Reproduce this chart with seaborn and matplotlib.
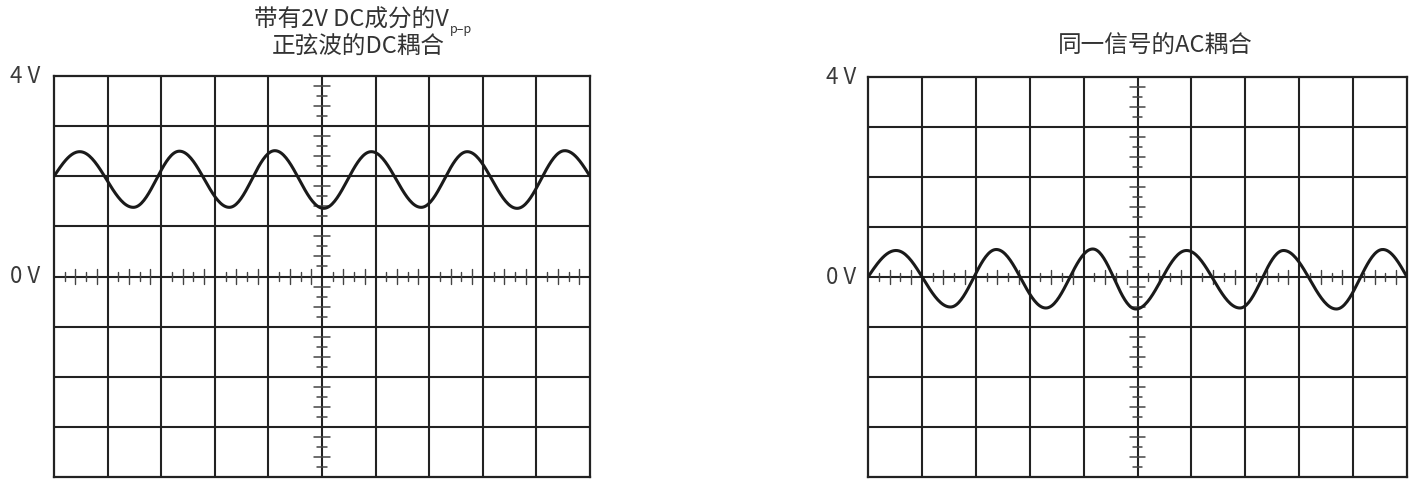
import numpy as np
import pandas as pd
import matplotlib
matplotlib.use('Agg')
import matplotlib.pyplot as plt
import seaborn as sns

# values (x in divisions, y in volts)
dc_start = [0.0, 2.0]
dc_end = [10.0, 2.0]
dc_peaks_x = [0.48, 2.34, 4.12, 5.92, 7.71, 9.53]
dc_peaks_v = [2.49, 2.50, 2.51, 2.49, 2.49, 2.51]
dc_troughs_x = [1.48, 3.27, 5.03, 6.85, 8.64]
dc_troughs_v = [1.38, 1.38, 1.36, 1.38, 1.36]

ac_start = [0.0, 0.0]
ac_end = [10.0, 0.0]
ac_peaks_x = [0.52, 2.38, 4.17, 5.91, 7.71, 9.55]
ac_peaks_v = [0.53, 0.55, 0.56, 0.53, 0.53, 0.55]
ac_troughs_x = [1.53, 3.30, 4.97, 6.90, 8.69]
ac_troughs_v = [-0.60, -0.62, -0.64, -0.62, -0.64]

y_labels = ['4 V', '0 V']
left_title = '带有2V DC成分的V'
left_title_sub = 'p–p'
left_title_2 = '正弦波的DC耦合'
right_title = '同一信号的AC耦合'

sns.set_style('white')
plt.rcParams['font.family'] = ['Noto Sans CJK SC', 'DejaVu Sans']

W, H = 1411, 479
fig = plt.figure(figsize=(W / 100, H / 100), dpi=100)


def trace(start, end, px, pv, tx, tv):
    kx = [start[0]]
    kv = [start[1]]
    for i in range(len(px)):
        kx.append(px[i]); kv.append(pv[i])
        if i < len(tx):
            kx.append(tx[i]); kv.append(tv[i])
    kx.append(end[0]); kv.append(end[1])
    xs, vs = [], []
    t = np.linspace(0, 1, 40)
    for i in range(len(kx) - 1):
        x0, x1, v0, v1 = kx[i], kx[i + 1], kv[i], kv[i + 1]
        if i == 0:
            s = np.sin(np.pi / 2 * t)
        elif i == len(kx) - 2:
            s = 1 - np.cos(np.pi / 2 * t)
        else:
            s = (1 - np.cos(np.pi * t)) / 2
        xs.extend(x0 + (x1 - x0) * t)
        vs.extend(v0 + (v1 - v0) * s)
    return pd.DataFrame({'x': xs, 'v': vs})


def screen(ax):
    ax.set_xlim(0, 10)
    ax.set_ylim(-4, 4)
    ax.set_xticks([])
    ax.set_yticks([])
    for i in range(1, 10):
        ax.axvline(i, color='#222222', lw=1.5, zorder=1)
    for j in range(-3, 4):
        ax.axhline(j, color='#222222', lw=1.5, zorder=1)
    for sp in ax.spines.values():
        sp.set_color('#222222')
        sp.set_linewidth(1.6)
    # minor graticule ticks on the centre lines
    for k in range(50):
        x = k * 0.2
        if k % 5 == 0:
            continue
        h = 0.14 if (k % 5) in (2, 4) else 0.08
        ax.plot([x, x], [-h, h], color='#444444', lw=1.0, zorder=1)
    for k in range(40):
        y = -4 + k * 0.2
        if k % 5 == 0:
            continue
        h = 0.14 if (k % 5) in (2, 4) else 0.09
        ax.plot([5 - h, 5 + h], [y, y], color='#444444', lw=1.1, zorder=1)


def px2fig(x, y):
    return x / W, 1 - y / H


ax1 = fig.add_axes([54 / W, 2 / H, (590 - 54) / W, (477 - 76) / H])
screen(ax1)
sns.lineplot(data=trace(dc_start, dc_end, dc_peaks_x, dc_peaks_v, dc_troughs_x, dc_troughs_v),
             x='x', y='v', ax=ax1, color='#1a1a1a', lw=2.2, sort=False, estimator=None, zorder=3)
ax1.set_xlabel('')
ax1.set_ylabel('')

ax2 = fig.add_axes([868 / W, 2 / H, (1407 - 868) / W, (477 - 77) / H])
screen(ax2)
sns.lineplot(data=trace(ac_start, ac_end, ac_peaks_x, ac_peaks_v, ac_troughs_x, ac_troughs_v),
             x='x', y='v', ax=ax2, color='#1a1a1a', lw=2.2, sort=False, estimator=None, zorder=3)
ax2.set_xlabel('')
ax2.set_ylabel('')

for ax, off in [(ax1, -0.26), (ax2, -0.22)]:
    ax.text(off, 4, y_labels[0], ha='right', va='center', fontsize=16, color='#3a3a3a', fontweight='light')
    ax.text(off, 0, y_labels[1], ha='right', va='center', fontsize=16, color='#3a3a3a', fontweight='light')

tkw = dict(color='#333333', fontweight='light')
fig.text(*px2fig(449, 20), left_title, ha='right', va='center', fontsize=17, **tkw)
fig.text(*px2fig(450, 30), left_title_sub, ha='left', va='center', fontsize=9, **tkw)
fig.text(*px2fig(358, 47), left_title_2, ha='center', va='center', fontsize=17, **tkw)
fig.text(*px2fig(1155, 46), right_title, ha='center', va='center', fontsize=17, **tkw)

fig.savefig('out.png', dpi=100)
